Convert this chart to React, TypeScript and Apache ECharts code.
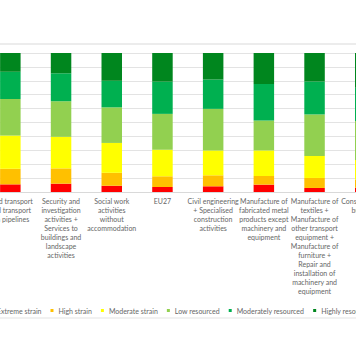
import React, { useEffect, useRef } from "react";
import * as echarts from "echarts";

const categories = [
  "Land transport\nand transport\nvia pipelines",
  "Security and\ninvestigation\nactivities +\nServices to\nbuildings and\nlandscape\nactivities",
  "Social work\nactivities\nwithout\naccommodation",
  "EU27",
  "Civil engineering\n+ Specialised\nconstruction\nactivities",
  "Manufacture of\nfabricated metal\nproducts except\nmachinery and\nequipment",
  "Manufacture of\ntextiles +\nManufacture of\nother transport\nequipment +\nManufacture of\nfurniture +\nRepair and\ninstallation of\nmachinery and\nequipment",
  "Construction of\nbuildings",
];

const seriesNames = [
  "Extreme strain",
  "High strain",
  "Moderate strain",
  "Low resourced",
  "Moderately resourced",
  "Highly resourced",
];

const extremeStrain = [5.5, 6.0, 4.5, 3.6, 4.1, 5.3, 2.9, 3.0];
const highStrain = [11.2, 11.0, 9.3, 7.7, 7.9, 6.2, 7.2, 6.0];
const moderateStrain = [23.9, 22.7, 21.5, 19.1, 17.9, 18.4, 15.8, 14.0];
const lowResourced = [26.3, 25.6, 25.6, 25.8, 29.9, 21.5, 29.9, 28.0];
const moderatelyResourced = [19.6, 20.1, 19.1, 23.2, 21.1, 26.3, 23.7, 24.0];
const highlyResourced = [13.5, 14.6, 20.0, 20.6, 19.1, 22.3, 20.5, 25.0];

const seriesValues = [
  extremeStrain,
  highStrain,
  moderateStrain,
  lowResourced,
  moderatelyResourced,
  highlyResourced,
];

const colors = ["#FF0000", "#FFC000", "#FFFF00", "#92D050", "#00B050", "#00861E"];

const FONT = "Lato";
const TEXT = "#666666";

export default function App() {
  const ref = useRef<HTMLDivElement>(null);
  useEffect(() => {
    if (!ref.current) return;
    const chart = echarts.init(ref.current, null, { renderer: "svg" });
    chart.setOption({
      animation: false,
      color: colors,
      textStyle: { fontFamily: FONT },
      grid: { left: 25, right: 9.4, top: 53, bottom: 172, containLabel: false },
      legend: {
        data: seriesNames,
        left: 24,
        top: 302,
        icon: "rect",
        itemWidth: 3,
        itemHeight: 3,
        itemGap: 9,
        textStyle: { fontSize: 7, color: TEXT, fontFamily: FONT },
      },
      xAxis: {
        type: "category",
        data: categories,
        axisLine: { lineStyle: { color: "#D9D9D9" } },
        axisTick: { show: false },
        axisLabel: {
          interval: 0,
          fontSize: 7,
          lineHeight: 9,
          color: TEXT,
          margin: 4,
          fontFamily: FONT,
        },
      },
      yAxis: {
        type: "value",
        min: 0,
        max: 100,
        interval: 10,
        axisLine: { show: false },
        axisTick: { show: false },
        axisLabel: { show: false },
        splitLine: { lineStyle: { color: "#E3E3E3" } },
      },
      graphic: [
        { type: "line", shape: { x1: 0, y1: 44, x2: 440, y2: 44 }, style: { stroke: "#D9D9D9", lineWidth: 1 } },
        { type: "line", shape: { x1: 0, y1: 318, x2: 440, y2: 318 }, style: { stroke: "#E3E3E3", lineWidth: 1 } },
      ],
      series: seriesNames.map((name, i) => ({
        name,
        type: "bar",
        stack: "total",
        barWidth: 20.5,
        data: seriesValues[i],
      })),
    });
    return () => chart.dispose();
  }, []);
  return (
    <div style={{ position: "fixed", left: 0, top: 0, width: 356, height: 364, overflow: "hidden", background: "#fff" }}>
      <div ref={ref} style={{ position: "absolute", left: -40, top: 0, width: 440, height: 364 }} />
    </div>
  );
}
